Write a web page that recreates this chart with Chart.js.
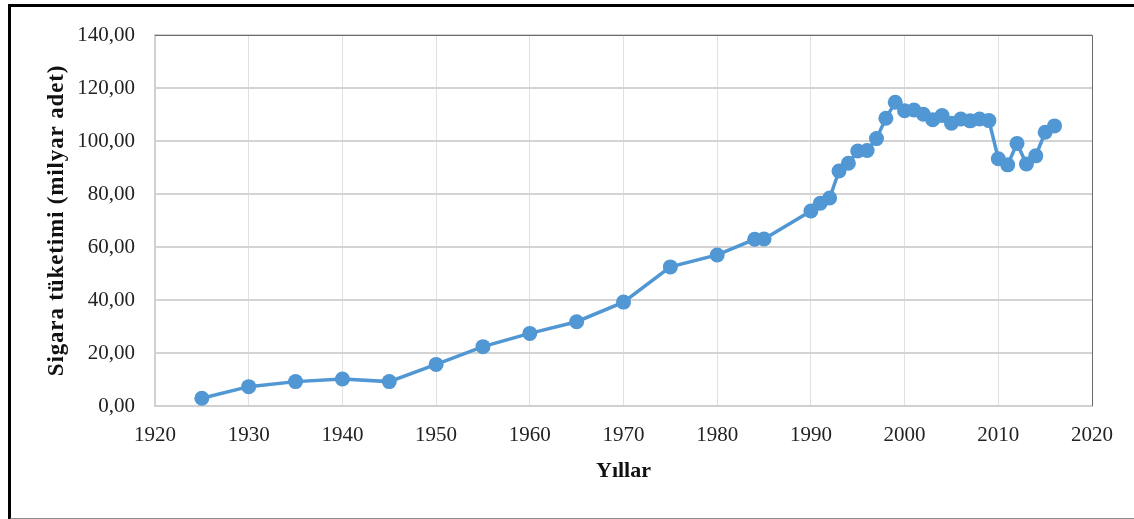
<!DOCTYPE html>
<html>
<head>
<meta charset="utf-8">
<script src="https://cdn.jsdelivr.net/npm/chart.js@4/dist/chart.umd.min.js"></script>
<style>
  body { margin: 0; background: #fff; }
  #frame {
    position: absolute; left: 8px; top: 4px; width: 1200px; height: 511px;
    border-left: 3px solid #000; border-top: 3px solid #000; border-bottom: 2px solid #8c8c8c;
  }
  #wrap { position: absolute; left: 0; top: 0; width: 1134px; height: 519px; }
</style>
</head>
<body>
<div id="frame"></div>
<div id="wrap"><canvas id="sigara-chart"></canvas></div>
<script>
var years = [1925, 1930, 1935, 1940, 1945, 1950, 1955, 1960, 1965, 1970, 1975, 1980,
  1984, 1985, 1990, 1991, 1992, 1993, 1994, 1995, 1996, 1997, 1998, 1999,
  2000, 2001, 2002, 2003, 2004, 2005, 2006, 2007, 2008, 2009,
  2010, 2011, 2012, 2013, 2014, 2015, 2016];
var consumption = [2.9, 7.3, 9.2, 10.2, 9.2, 15.7, 22.4, 27.4, 31.8, 39.2, 52.5, 57.0,
  62.9, 63.0, 73.6, 76.5, 78.5, 88.7, 91.6, 96.2, 96.4, 100.9, 108.6, 114.6,
  111.4, 111.7, 110.1, 108.0, 109.6, 106.7, 108.3, 107.6, 108.3, 107.7,
  93.3, 91.0, 99.1, 91.3, 94.4, 103.3, 105.7];
var yTicks = [0, 20, 40, 60, 80, 100, 120, 140];
var xTicks = [1920, 1930, 1940, 1950, 1960, 1970, 1980, 1990, 2000, 2010, 2020];

var points = years.map(function (y, i) { return { x: y, y: consumption[i] }; });

// top and right edge of the plot area
var plotFrame = {
  id: "plotFrame",
  afterDraw: function (chart) {
    var a = chart.chartArea, ctx = chart.ctx;
    ctx.save();
    ctx.strokeStyle = "#6b6b6b";
    ctx.lineWidth = 1;
    ctx.beginPath();
    ctx.moveTo(a.left, a.top + 0.5);
    ctx.lineTo(a.right + 0.5, a.top + 0.5);
    ctx.lineTo(a.right + 0.5, a.bottom);
    ctx.stroke();
    ctx.restore();
  }
};

// the y title in the picture is a bit letter-spaced
var spacedTitle = {
  id: "spacedTitle",
  afterLayout: function (chart) {
    var s = chart.scales.y;
    if (s._spaced) return;
    var orig = s.drawTitle;
    s.drawTitle = function () {
      this.ctx.save();
      this.ctx.letterSpacing = "0.85px";
      orig.apply(this, arguments);
      this.ctx.restore();
    };
    s._spaced = true;
  }
};

var ctx = document.getElementById("sigara-chart").getContext("2d");
var chart = new Chart(ctx, {
  type: "line",
  data: {
    datasets: [{
      label: "Sigara tüketimi",
      data: points,
      borderColor: "#5097d3",
      backgroundColor: "#5097d3",
      pointBackgroundColor: "#5097d3",
      pointBorderColor: "#5097d3",
      borderWidth: 3.5,
      pointRadius: 7.5,
      pointBorderWidth: 0,
      tension: 0
    }]
  },
  options: {
    responsive: true,
    maintainAspectRatio: false,
    animation: false,
    layout: { padding: { left: 0, top: 35, right: 42, bottom: 0 } },
    plugins: { legend: { display: false }, tooltip: { enabled: false } },
    scales: {
      x: {
        type: "linear",
        min: xTicks[0],
        max: xTicks[xTicks.length - 1],
        afterBuildTicks: function (s) { s.ticks = xTicks.map(function (v) { return { value: v }; }); },
        afterFit: function (s) { s.height = 113; },
        ticks: {
          color: "#222",
          padding: 17,
          maxRotation: 0,
          font: { family: "Liberation Serif", size: 21 },
          callback: function (v) { return String(v); }
        },
        grid: { color: "#e0e0e0", drawTicks: false },
        border: { color: "#d0d0d0", width: 2 },
        title: {
          display: true,
          text: "Yıllar",
          color: "#111",
          font: { family: "Liberation Serif", size: 22, weight: "bold" },
          padding: { top: 0, bottom: 34 }
        }
      },
      y: {
        min: yTicks[0],
        max: yTicks[yTicks.length - 1],
        afterBuildTicks: function (s) { s.ticks = yTicks.map(function (v) { return { value: v }; }); },
        afterFit: function (s) { s.width = 155; },
        ticks: {
          color: "#222",
          padding: 20,
          font: { family: "Liberation Serif", size: 21 },
          callback: function (v) { return v.toFixed(2).replace(".", ","); }
        },
        grid: { color: "#d3d3d3", lineWidth: 2, drawTicks: false },
        border: { color: "#d0d0d0", width: 2 },
        title: {
          display: true,
          text: "Sigara tüketimi (milyar adet)",
          color: "#111",
          font: { family: "Liberation Serif", size: 23, weight: "bold" },
          padding: { top: 43, bottom: 0 }
        }
      }
    }
  },
  plugins: [plotFrame, spacedTitle]
});
</script>
</body>
</html>
